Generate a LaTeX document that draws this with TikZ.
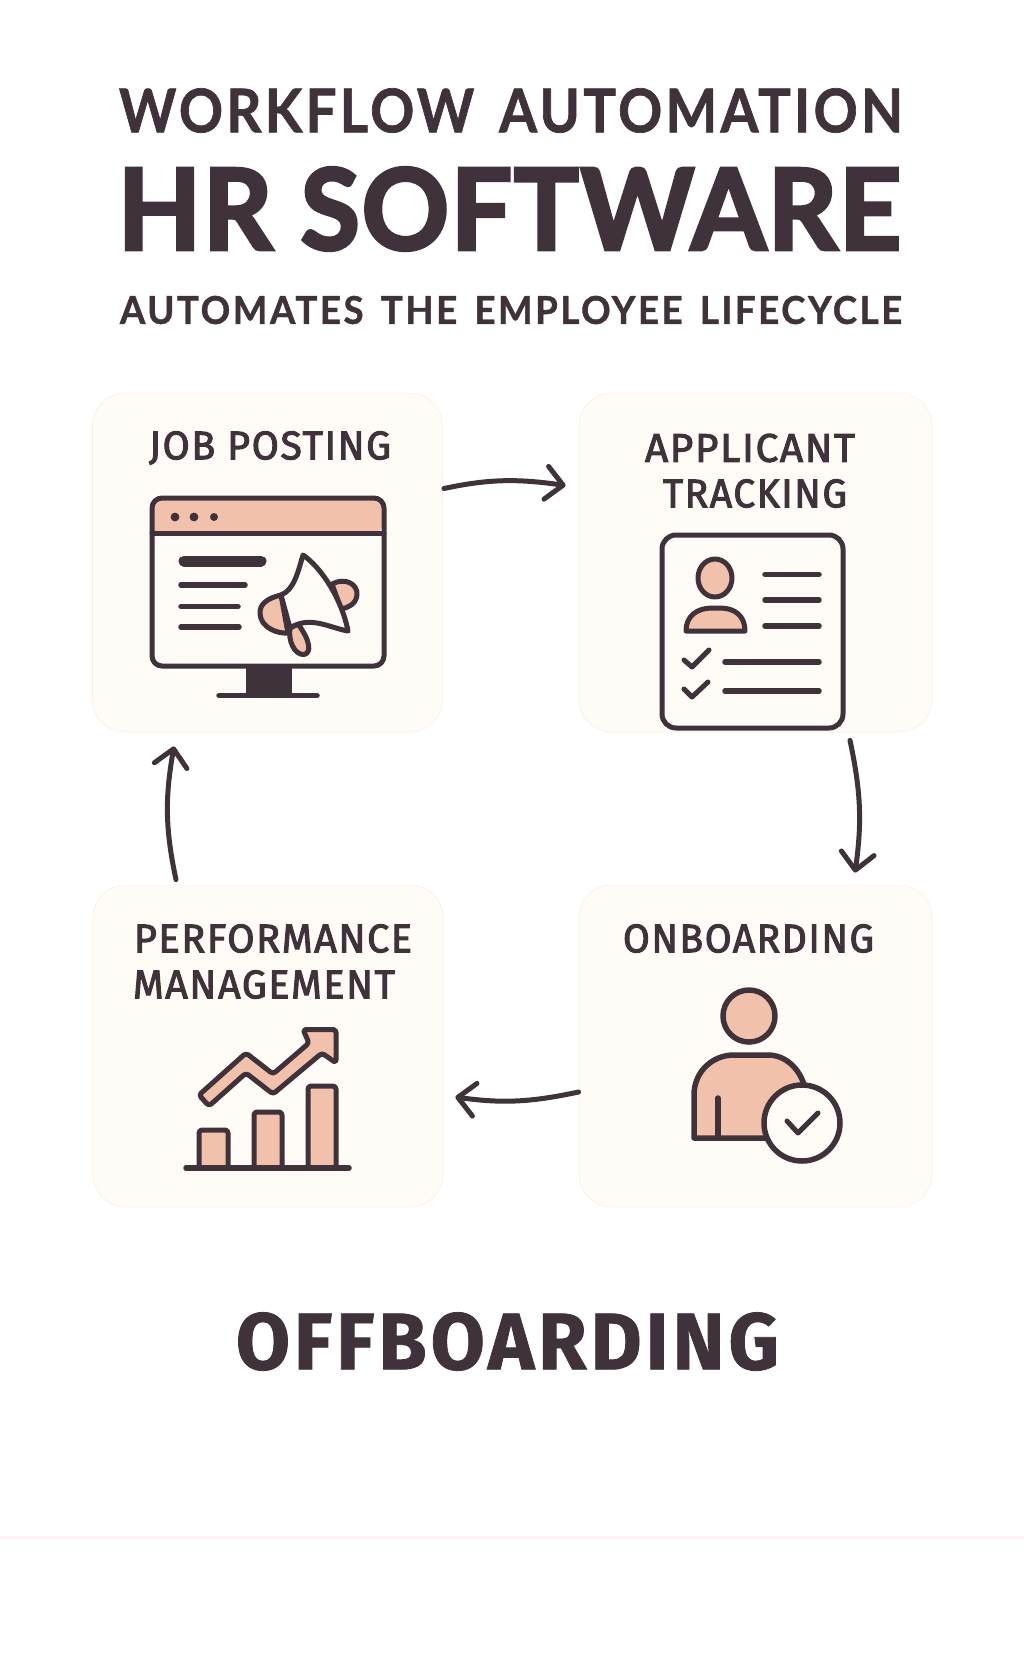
\documentclass[tikz,border=0pt]{standalone}
\usepackage{graphicx}
\usepackage{fontspec}
\usetikzlibrary{arrows.meta}
\newfontfamily\titlefont[LetterSpace=6,WordSpace=1.5,BoldFeatures={FakeBold=1.2}]{Lato}
\newfontfamily\subfont[LetterSpace=7,WordSpace=1.5,BoldFeatures={FakeBold=1}]{Lato}
\newfontfamily\heavyfont[LetterSpace=1.5,BoldFeatures={FakeBold=3}]{Lato}
\newfontfamily\labelfont[LetterSpace=4,FakeBold=2.5]{Fira Sans}
\newfontfamily\offfont[LetterSpace=5,BoldFeatures={FakeBold=1}]{Fira Sans}
\definecolor{ink}{HTML}{40323A}
\definecolor{peach}{HTML}{F2C1AB}
\definecolor{cream}{HTML}{FFFBF6}
\definecolor{edge}{HTML}{FDF1E6}
\definecolor{rulepink}{HTML}{FFF0F3}
\newcommand{\fitbox}[3]{\resizebox{#1pt}{#2pt}{#3}}
\tikzset{
  x=1pt,y=-1pt,
  card/.style={draw=edge,fill=cream,line width=0.8pt,rounded corners=33pt,minimum width=#1,inner sep=0pt},
  txt/.style={text=ink,inner sep=0pt,outer sep=0pt,anchor=center},
  icon/.style={draw=ink,line width=5pt,line join=round,line cap=round},
  iconfill/.style={icon,fill=peach},
  thin/.style={draw=ink,line width=5.5pt,line cap=round},
  flow/.style={draw=ink,line width=5pt,line cap=round,line join=round,
    -{Straight Barb[length=17pt,width=33pt,line cap=round,line join=round]}}
}
\begin{document}
\begin{tikzpicture}
\useasboundingbox (0,0) rectangle (1024,1666);
\fill[white] (0,0) rectangle (1024,1666);
% header
\node[txt] (t1) at (511,110.5) {\fitbox{784}{44}{\titlefont\bfseries WORKFLOW AUTOMATION}};
\node[txt] (t2) at (509.5,209) {\fitbox{783}{82}{\heavyfont\bfseries HR SOFTWARE}};
\node[txt] (t3) at (511,310) {\fitbox{782}{28}{\subfont\bfseries AUTOMATES THE EMPLOYEE LIFECYCLE}};
% cards
\node[card=350pt,minimum height=339pt] (c1) at (267.5,562.5) {};
\node[card=353pt,minimum height=339pt] (c2) at (755.5,562.5) {};
\node[card=350pt,minimum height=322pt] (c3) at (268,1046) {};
\node[card=353pt,minimum height=322pt] (c4) at (755.5,1046) {};
% labels
\node[txt] (l1) at (270,448) {\fitbox{242}{28}{\labelfont JOB POSTING}};
\node[txt] (l2a) at (750,448) {\fitbox{210}{28}{\labelfont APPLICANT}};
\node[txt] (l2b) at (755,493.5) {\fitbox{184}{28}{\labelfont TRACKING}};
\node[txt] (l3a) at (273,938.5) {\fitbox{278}{28}{\labelfont PERFORMANCE}};
\node[txt] (l3b) at (264,984.5) {\fitbox{262}{28}{\labelfont MANAGEMENT}};
\node[txt] (l4) at (748.5,938.5) {\fitbox{251}{28}{\labelfont ONBOARDING}};
% monitor
\fill[ink] (246,668) rectangle (292,695);
\draw[thin] (219,695.5) -- (317,695.5);
\fill[peach,rounded corners=10pt] (153,533) |- (383,498) -- (383,533) [sharp corners] -- cycle;
\draw[icon] (152,533) -- (384,533);
\draw[icon,rounded corners=10pt] (152,498) rectangle (384,666);
\fill[ink] (175,517) circle[radius=4.4] (194,517) circle[radius=4.4] (214,517) circle[radius=4];
\draw[ink,line width=11pt,line cap=round] (184,561) -- (261,561);
\draw[thin] (181,585) -- (245,585);
\draw[thin] (181,606.5) -- (238,606.5);
\draw[thin] (181,627) -- (239,627);
% megaphone
\draw[iconfill] (332,584) .. controls (345,577) and (358,584) .. (357,595) .. controls (356,604) and (348,608) .. (341,609) -- cycle;
\draw[iconfill] (281,595) .. controls (268,598) and (259,604) .. (260,614) .. controls (261,628) and (278,634) .. (288,633) -- cycle;
\draw[iconfill] (290,628) .. controls (288,640) and (294,655) .. (304,654.5) .. controls (312,653) and (310,640) .. (298,624) -- cycle;
\draw[icon,fill=cream] (281,595) .. controls (294,590) and (298,572) .. (303,555) .. controls (322,568) and (342,600) .. (348,631) .. controls (330,628) and (310,615) .. (290,628) -- cycle;
% applicant form
\draw[icon,fill=cream,rounded corners=14pt] (662,535) rectangle (843,728);
\draw[iconfill] (715,578) ellipse[x radius=17,y radius=19];
\draw[iconfill] (686,631) .. controls (686,616) and (697,608) .. (712,608) -- (720,608) .. controls (735,608) and (745,616) .. (745,631) -- cycle;
\draw[thin] (765,574.5) -- (819,574.5);
\draw[thin] (765,600) -- (819,600);
\draw[thin] (765,626) -- (819,626);
\draw[icon] (684,660) -- (692,667) -- (709,650);
\draw[icon] (684,689) -- (692,697) -- (708,682);
\draw[thin] (725,662) -- (819,662);
\draw[thin] (725,691) -- (819,691);
% performance chart
\draw[iconfill,rounded corners=3pt] (199,1168) |- (228,1130) -- (228,1168);
\draw[iconfill,rounded corners=3pt] (254,1168) |- (282,1112) -- (282,1168);
\draw[iconfill,rounded corners=3pt] (308,1168) |- (336,1086) -- (336,1168);
\draw[thin] (186,1168) -- (349,1168);
\draw[iconfill,rounded corners=3pt] (199,1095) -- (246,1053) -- (273,1074) -- (309,1043) -- (303,1029.5) -- (336,1029.5) -- (336,1063) -- (322,1053) -- (273,1094) -- (246,1073) -- (209,1106) -- cycle;
% onboarding person
\draw[iconfill,line width=5.5pt] (749,1016) circle[radius=26];
\draw[iconfill,line width=5.5pt] (694,1138) -- (694,1095) .. controls (694,1072) and (712,1055) .. (734,1055) -- (768,1055) .. controls (785,1055) and (800,1068) .. (805,1088) -- (805,1138) -- cycle;
\draw[thin] (718,1098) -- (718,1137);
\draw[icon,line width=5.5pt,fill=cream] (802,1123) circle[radius=38];
\draw[icon] (787,1121) -- (798,1133) -- (818,1113);
% footer
\node[txt] (off) at (507.5,1341.5) {\fitbox{543}{57}{\offfont\bfseries OFFBOARDING}};
\draw[rulepink,line width=3pt] (0,1537) -- (1024,1537);
% connectors
\draw[flow] ([shift={(1pt,74pt)}]c1.east) to[out=12,in=172] ([shift={(-13pt,77pt)}]c2.west);
\draw[flow] ([shift={(94.5pt,-8pt)}]c2.south) to[out=-78,in=82] ([shift={(99.5pt,12pt)}]c4.north);
\draw[flow] ([shift={(0pt,-46pt)}]c4.west) to[out=192,in=-8] ([shift={(12pt,-51pt)}]c3.east);
\draw[flow] ([shift={(-92pt,5pt)}]c3.north) to[out=102,in=-100] ([shift={(-93.5pt,-14pt)}]c1.south);
\end{tikzpicture}
\end{document}
